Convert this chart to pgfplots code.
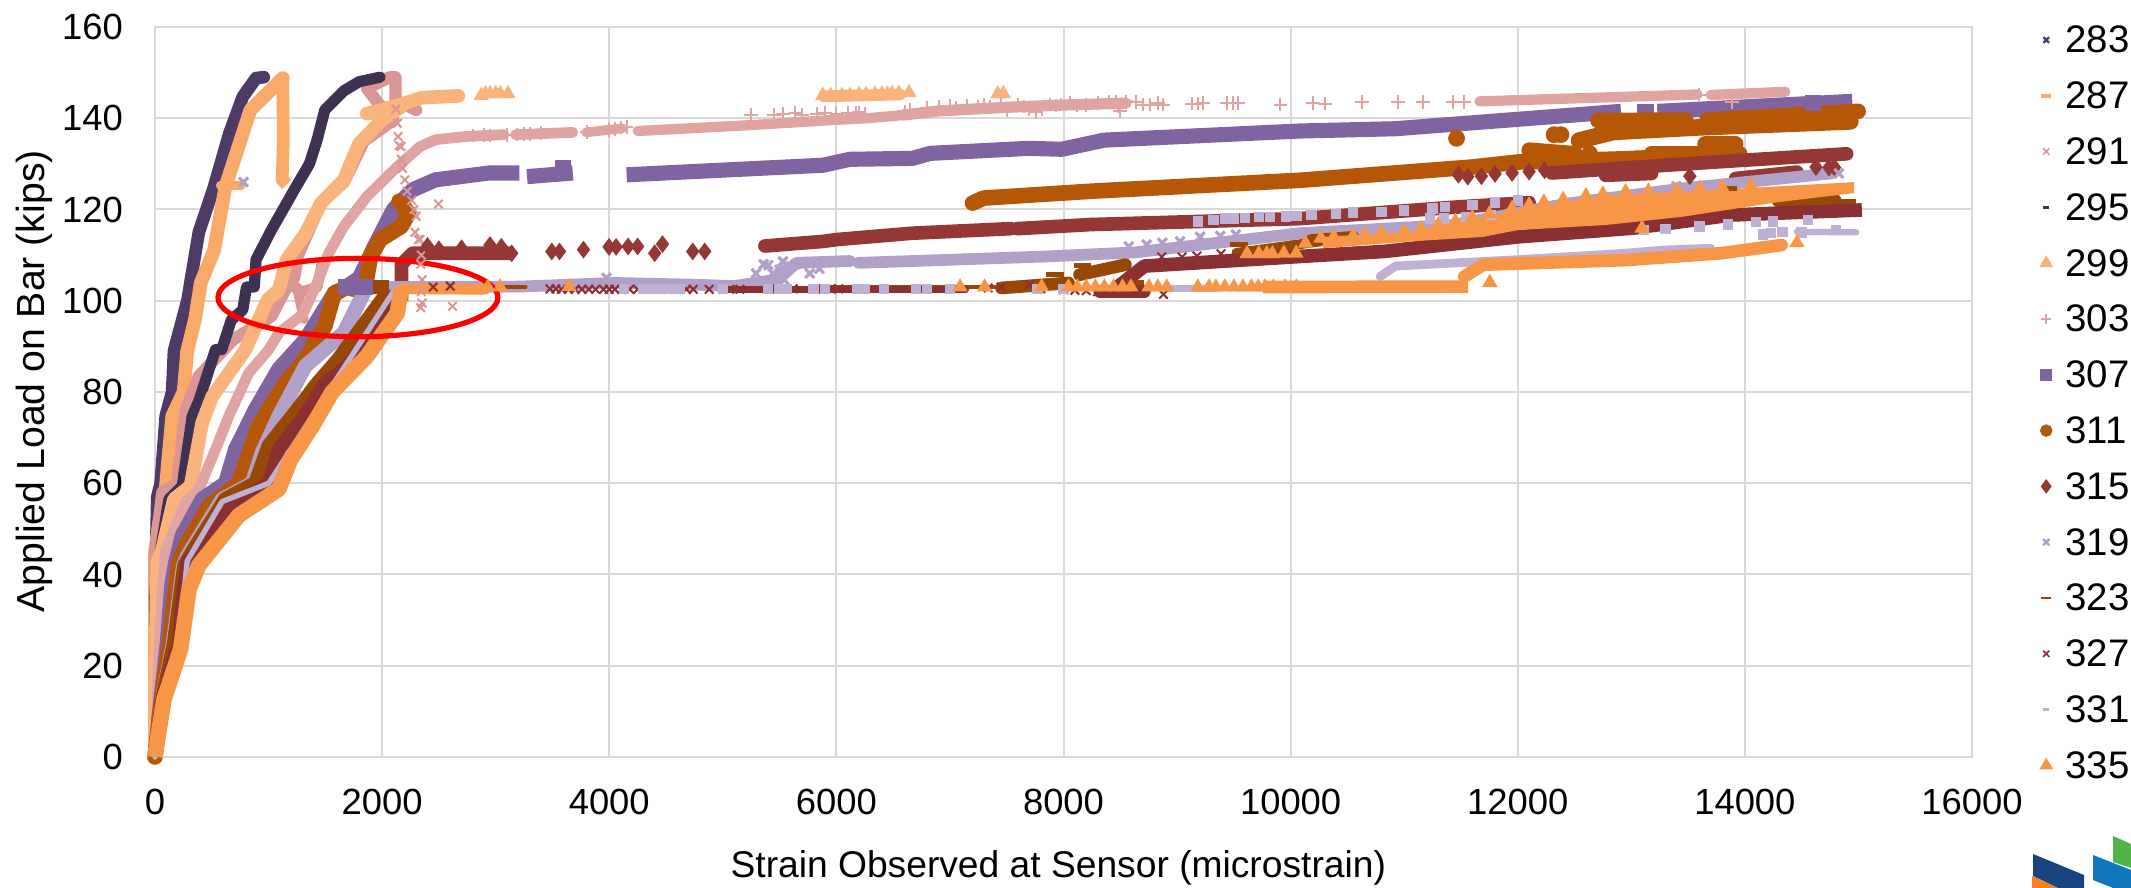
\documentclass[border=0pt]{standalone}
\usepackage{pgfplots}
\pgfplotsset{compat=1.18}
\usepackage{fontspec}
\setmainfont{Liberation Sans}
\usetikzlibrary{plotmarks}
\definecolor{c283}{HTML}{4D3B66}
\definecolor{c287}{HTML}{F9A968}
\definecolor{c291}{HTML}{D99694}
\definecolor{c295}{HTML}{3F3151}
\definecolor{c299}{HTML}{FAB37A}
\definecolor{c303}{HTML}{E0A5A3}
\definecolor{c307}{HTML}{8064A2}
\definecolor{c311}{HTML}{B65708}
\definecolor{c315}{HTML}{953735}
\definecolor{c319}{HTML}{B1A0C7}
\definecolor{c323}{HTML}{974806}
\definecolor{c327}{HTML}{8A3033}
\definecolor{c331}{HTML}{BFB1D3}
\definecolor{c335}{HTML}{F79646}
\definecolor{gridc}{HTML}{D9D9D9}
\definecolor{logoO}{HTML}{F58220}
\definecolor{logoD}{HTML}{17457F}
\definecolor{logoB}{HTML}{1078BE}
\definecolor{logoG}{HTML}{52B448}
\pgfplotsset{
 band/.style={forget plot,no markers,line join=round,line cap=round,line width=1.22*#1},
 dots/.style={forget plot,only marks},
}
\newcommand{\lgt}[1]{\hspace*{3.4pt}#1}
\begin{document}
\begin{tikzpicture}[x=1pt,y=1pt]
\useasboundingbox (0,0) rectangle (532.75pt,222pt);
\begin{axis}[
 at={(38.75pt,32.75pt)},anchor=south west,
 scale only axis,width=454.25pt,height=182.5pt,
 xmin=0,xmax=16000,ymin=0,ymax=160,
 xtick={0,2000,...,16000},ytick={0,20,...,160},
 scaled x ticks=false,
 xticklabel style={/pgf/number format/1000 sep={},/pgf/number format/assume math mode=true,font=\fontsize{9.1}{10}\selectfont},
 yticklabel style={/pgf/number format/assume math mode=true,font=\fontsize{9.1}{10}\selectfont},
 grid=major,grid style={gridc,line width=0.5pt},
 axis line style={gridc,line width=0.6pt},
 major tick length=0pt,
 tick align=inside,
 xticklabel shift=4.6pt,yticklabel shift=4.5pt,
 clip=false,axis on top=false,
 xlabel={Strain Observed at Sensor (microstrain)},
 ylabel={Applied Load on Bar (kips)},
 xlabel style={font=\fontsize{9.3}{10}\selectfont,yshift=-2pt,xshift=-1.3pt},
 ylabel style={font=\fontsize{9.8}{10}\selectfont,yshift=-4.4pt,xshift=2.7pt},
 legend style={draw=none,fill=none,at={(1.0378,1.0)},anchor=north west,
   font=\fontsize{9.6}{10}\selectfont,row sep=7.45pt,inner sep=0pt,outer sep=0pt,
   legend cell align=left,
   nodes={inner sep=0pt,text height=6.5pt,text depth=0pt}},
 legend image code/.code={\draw[mark repeat=2,mark phase=2,#1] plot coordinates {(0cm,0cm)(0.15cm,0cm)(0.3cm,0cm)};},
]
% legend
\addlegendimage{only marks,c283,mark=x,mark size=1pt,mark options={line width=.6pt}}
\addlegendimage{only marks,c287,mark=-,mark size=1.3pt,mark options={line width=.9pt}}
\addlegendimage{only marks,c291,mark=x,mark size=1.1pt,mark options={line width=.4pt}}
\addlegendimage{only marks,c295,mark=-,mark size=.8pt,mark options={line width=.8pt}}
\addlegendimage{only marks,c299,mark=triangle*,mark size=1.6pt}
\addlegendimage{only marks,c303,mark=+,mark size=1.2pt,mark options={line width=.4pt}}
\addlegendimage{only marks,c307,mark=square*,mark size=1.3pt}
\addlegendimage{only marks,c311,mark=*,mark size=1.35pt}
\addlegendimage{only marks,c315,mark=diamond*,mark size=1.5pt}
\addlegendimage{only marks,c319,mark=x,mark size=1.1pt,mark options={line width=.6pt}}
\addlegendimage{only marks,c323,mark=-,mark size=1.3pt,mark options={line width=.7pt}}
\addlegendimage{only marks,c327,mark=x,mark size=1.1pt,mark options={line width=.4pt}}
\addlegendimage{only marks,c331,mark=-,mark size=.8pt,mark options={line width=.8pt}}
\addlegendimage{only marks,c335,mark=triangle*,mark size=1.6pt}
\legend{\lgt{283},\lgt{287},\lgt{291},\lgt{295},\lgt{299},\lgt{303},\lgt{307},\lgt{311},\lgt{315},\lgt{319},\lgt{323},\lgt{327},\lgt{331},\lgt{335}}
% 283
\addplot[band=2.6pt,c283] coordinates {(0,0)(0,30)(10,45)(20,57)(50,60)(94,74.7)(151,80)(167,89)(285,100)(386,115)(520,125)(655,136.7)(773,144.7)(890,148.8)(958,149)};
% 287
\addplot[band=2.8pt,c287] coordinates {(0,0)(0,45)(35,51)(94,58.7)(152,74.7)(252,80)(284,89)(353,96)(403,103.9)(520,111)(620,125)(840,141.8)(991,145.5)(1125,148.8)};
\addplot[band=2.6pt,c287,line cap=butt] coordinates {(1125,148.8)(1130,135)(1120,126.5)(1160,125.5)};
\addplot[band=1.8pt,c287] coordinates {(575,125.3)(760,125.3)};
% 291
\addplot[band=2.5pt,c291] coordinates {(0,0)(0,45)(64,58)(196,60)(270,76)(387,83.5)(520,87)(690,91.5)(1025,96.6)(1159,103)(1226,105)(1260,110)(1462,121.4)(1663,126)(1840,135)(2100,139.6)(1966,143.3)(1865,146.6)(2066,149)(2117,149)(2117,144)(2300,141.8)};
\addplot[band=2.2pt,c291] coordinates {(1180,103.5)(1300,102)(1428,103)(1470,108)};
\addplot[band=2pt,c291] coordinates {(1250,103)(1310,96)};
\addplot[dots,c291,mark=x,mark size=1.5pt,mark options={line width=.5pt}] coordinates {(2120,142)(2134,138.9)(2140,136)(2150,134)(2167,133.8)(2170,131)(2180,129)(2200,126.5)(2220,124)(2260,122)(2280,120)(2300,118.5)(2290,115)(2320,113.4)(2335,113.4)(2345,110)(2340,108)(2352,104.6)(2345,102)(2352,99.5)(2340,98.5)(2620,98.8)(2496,121.2)};
% 295
\addplot[band=2.3pt,c295] coordinates {(0,0)(0,35)(10,40)(50,45.5)(123,56.5)(240,59.4)(328,74.7)(386,78)(533,89.3)(588,89.3)(672,95.8)(773,98)(806,103)(874,103)(890,109)(1025,115.5)(1226,124.3)(1360,130)(1428,135.3)(1495,141.8)(1663,146)(1797,148)(1982,149)};
% 299
\addplot[band=2.8pt,c299] coordinates {(0,0)(0,16)(20,42.6)(64,45.5)(167,56.5)(313,59.4)(416,73.3)(504,79)(797,89.3)(991,100.2)(1092,102.4)(1159,109)(1327,114.8)(1462,121.4)(1663,126.5)(1798,134.5)(2000,139.6)(2167,142.5)(1865,141)(2167,143)(2350,144.5)(2671,144.9)};
\addplot[dots,c299,mark=triangle*,mark size=1.8pt] coordinates {(2873,145)(2910,145.4)(2950,145.4)(3000,145.4)(3040,145.4)(3108,145.4)(5880,145)(5950,145)(6050,145)(6120,145)(6200,145.2)(6260,145.2)(6340,145.3)(6400,145.3)(6450,145.3)(6490,145.4)(6550,145.5)(6640,145.6)(7420,145.3)(7470,145.4)};
\addplot[band=2.4pt,c299] coordinates {(5890,144.8)(6560,145.2)};
% 303
\addplot[band=2.2pt,c303] coordinates {(0,0)(30,20)(60,35)(94,45.5)(270,55.8)(387,58.7)(533,67.4)(650,74.7)(826,84.2)(1002,89.3)(1092,93)(1300,97)(1428,103.9)(1529,110.4)(1663,116.3)(1865,122.8)(2134,129.4)(2335,133.8)(2470,135.3)(2738,136)(3074,136.4)};
\addplot[band=2.2pt,c303] coordinates {(3175,136.4)(3679,136.9)};
\addplot[band=2pt,c303] coordinates {(3797,136.9)(4116,137.8)};
\addplot[band=2.1pt,c303] coordinates {(4251,137.2)(5254,138.5)(5961,139.6)(6275,140)(6590,140.7)};
\addplot[band=2.3pt,c303] coordinates {(6590,140.7)(6900,141.6)(7500,142.4)(8000,142.9)(8550,143.3)};
\addplot[dots,c303,mark=+,mark size=1.7pt,mark options={line width=.5pt}] coordinates {(2800,136.2)(2900,136.3)(2950,136.2)(3100,136.3)(3190,136.4)(3250,136.5)(3300,136.5)(3400,136.7)(3800,137)(4000,137.4)(4050,137.6)(4100,138)(4153,138.1)(5250,140.8)(5450,140.8)(5530,141)(5640,141.2)(5700,140.8)(5830,141)(5900,141.2)(6000,141)(6100,141.2)(6170,141.1)(6200,141.3)(6250,141)(6600,141.5)(6650,141.8)(6800,142.2)(6900,142.5)(7000,142.7)(7050,142.3)(7150,142.7)(7250,142.5)(7300,143)(7350,142.5)(7450,143)(7500,141.7)(7600,143)(7650,142.6)(7700,142)(7760,141.3)(7810,142)(7880,143)(7930,142.8)(7980,143)(8060,143.4)(8120,142.8)(8200,142.9)(8300,143.4)(8400,143.5)(8460,143.5)(8480,142.6)(8500,141.6)(8550,143.7)(8640,143.6)(8700,143)(8760,143)(8830,143.3)(8880,143)(9130,143.2)(9180,143.2)(9230,143.3)(9440,143.4)(9490,143.3)(9540,143.3)(9910,143)(10199,143.3)(10300,143.2)(10630,143.6)(10946,143.6)(11168,143.6)(11428,143.6)(11529,143.6)(13885,143.6)(13600,145.2)};
\addplot[band=2.1pt,c303] coordinates {(11663,143.7)(13583,145.2)};
\addplot[band=2.1pt,c303] coordinates {(13700,145.1)(14357,145.8)};
% 307
\addplot[band=3.1pt,c307,line cap=butt] coordinates {(0,0)(50,12)(108,25)(150,38)(182,42.6)(240,48.5)(416,56.5)(621,60)(709,67.4)(885,76.2)(1090,85)(1327,91.5)(1562,101)(1800,105)(1932,111.9)(2100,120)(2268,124.3)(2470,126.5)(2940,128)(3209,128)};
\addplot[band=3.1pt,c307,line cap=butt] coordinates {(3276,127.2)(3679,128)};
\addplot[band=3.1pt,c307,line cap=butt] coordinates {(4153,127.6)(5882,129.7)(6118,131)(6668,131.2)(6826,132.3)(7690,133.4)(7985,133.2)(8358,135.2)(10081,137.2)(10923,137.7)(12909,141.5)};
\addplot[band=3.1pt,c307,line cap=butt] coordinates {(13050,141.5)(13200,141.5)};
\addplot[band=3.1pt,c307,line cap=butt] coordinates {(13229,141.5)(14946,143.7)};
\addplot[dots,c307,mark=square*,mark size=1.8pt] coordinates {(1680,103)(1730,103)(1850,103)(3590,129)(14600,143.4)};
% 311
\addplot[band=3.2pt,c311] coordinates {(0,0)(55,12)(130,25)(205,42)(270,46.3)(475,55)(738,60)(914,72.6)(1002,76.2)(1149,82)(1324,87.2)(1495,94.4)(1579,101.7)(1697,103)(1750,102.5)(1850,103)(1898,109.7)(1982,113.4)(2168,116.3)(2235,119.2)(2150,121.8)};
\addplot[band=3.2pt,c311] coordinates {(7199,121.4)(7297,122.5)(8240,124)(10081,126.4)(11596,129.3)(12000,130.4)(12926,131.1)(13953,132.2)};
\addplot[band=3.4pt,c311] coordinates {(12539,135.1)(12842,137)(13600,138)(14929,139.3)};
\addplot[band=3.2pt,c311] coordinates {(12707,139.5)(13481,139.6)};
\addplot[band=3.2pt,c311] coordinates {(13667,139.6)(14997,141.5)};
\addplot[band=3.2pt,c311] coordinates {(12101,133)(12505,132.2)};
\addplot[band=3.2pt,c311] coordinates {(13178,132.2)(13953,132.2)};
\addplot[band=3.2pt,c311] coordinates {(13650,134.3)(13919,134.3)};
\addplot[dots,c311,mark=*,mark size=1.9pt] coordinates {(11461,135.6)(12320,136.4)(12380,136.4)(12633,132.2)};
% 315
\addplot[band=2.8pt,c315,line cap=butt] coordinates {(2170,100)(2170,108)(2268,110.4)(3141,110.4)};
\addplot[dots,c315,mark=diamond*,mark size=1.9pt] coordinates {(2400,112)(2500,111.3)(2700,111.5)(2950,112.2)(3050,111.8)(3141,110.4)(3494,110.8)(3562,110.8)(3773,111.2)(3998,111.8)(4060,111.8)(4166,111.9)(4250,111.9)(4400,110.4)(4469,112.4)(4735,110.8)(4841,110.8)(11478,127.6)(11560,127.2)(11680,127.3)(11800,127.8)(11950,128)(12100,128.3)(12236,128.6)(13515,127.3)(14626,129.3)(14740,129.2)(14790,129.2)};
\addplot[band=2.8pt,c315] coordinates {(5371,112)(5882,113)(6000,113.4)(6668,114.8)(7533,115.8)};
\addplot[band=2.8pt,c315] coordinates {(7592,115.8)(8240,116.7)(10081,118)(11495,120.6)(12100,121.5)};
\addplot[band=2.8pt,c315] coordinates {(12300,128)(13000,129.2)(13800,130.5)(14896,132.2)};
\addplot[band=2.8pt,c315] coordinates {(12774,127.5)(13178,127.9)};
\addplot[band=2.8pt,c315] coordinates {(13919,126.8)(14458,128.2)};
% 319
\addplot[band=3pt,c319,line cap=butt] coordinates {(0,0)(60,12)(160,25)(250,42)(284,44)(592,56.5)(855,60)(943,66.7)(1090,74.7)(1324,85.7)(1663,93)(1865,103)};
\addplot[band=2.4pt,c319] coordinates {(1865,103)(3209,103.1)(4050,103.9)(4780,103.5)(5096,103.2)(5490,104.7)(5647,108.3)(6118,108.7)};
\addplot[band=2.4pt,c319] coordinates {(6197,108.3)(7847,109.7)(8633,110.6)(10081,114.8)(11428,116.6)(12437,121.3)(13448,124.6)(14761,127.9)};
\addplot[dots,c319,mark=x,mark size=1.6pt,mark options={line width=.8pt}] coordinates {(780,126)(3976,105)(5293,106)(5360,108)(5400,107.8)(5440,106)(5500,106.8)(5530,108.6)(5600,107.5)(5540,104.6)(5700,108)(5765,106)(5850,107)(6050,108.7)(8575,111.9)(8732,112.3)(8870,112.7)(9026,113)(9203,114)(9380,114.2)(9518,114.5)(13397,125.1)(14828,127.9)};
% 323
\addplot[band=3pt,c323,line cap=butt] coordinates {(0,0)(60,12)(170,25)(260,42)(330,45)(621,56.5)(885,60)(1002,68.2)(1236,75.5)(1412,81.3)(1617,87.2)(2066,102.4)};
\addplot[band=3pt,c323,line cap=butt] coordinates {(1800,103)(2060,103)};
\addplot[band=1pt,c323] coordinates {(3040,103)(3259,103)};
\addplot[band=1pt,c323] coordinates {(5780,103)(7454,103)};
\addplot[band=2.6pt,c323] coordinates {(7454,102.8)(8044,103.9)};
\addplot[band=2.6pt,c323] coordinates {(8141,105.7)(8545,107.9)};
\addplot[band=2pt,c323] coordinates {(9522,110.5)(10263,113)};
\addplot[band=2.4pt,c323] coordinates {(10182,113.3)(10552,114)};
\addplot[band=2.6pt,c323] coordinates {(13246,118)(13683,119.1)};
\addplot[band=2.6pt,c323] coordinates {(14290,122)(14795,122)};
\addplot[dots,c323,mark=-,mark size=2.2pt,mark options={line width=1.2pt}] coordinates {(7923,105.7)(8168,107.8)(8633,104)(9545,112.3)(13852,124.6)(14650,121.5)(14900,121.7)};
% 327
\addplot[band=2.8pt,c327,line cap=butt] coordinates {(0,0)(60,12)(150,20)(211,25)(250,36)(284,42.6)(416,46.3)(680,55)(1002,60)(1090,67.4)(1295,74)(1500,82)(1697,85.6)(2000,95.8)(2134,101.7)};
\addplot[band=2.6pt,c327] coordinates {(8320,102)(8712,102)};
\addplot[band=2.8pt,c327,line cap=butt] coordinates {(8476,103)(8712,107.6)(10081,109.7)(10822,110.8)(12000,114)(13010,115.9)(13885,118.8)(15030,119.9)};
\addplot[band=1.3pt,c327] coordinates {(5000,102.5)(7140,102.5)};
\addplot[dots,c327,mark=x,mark size=1.5pt,mark options={line width=.5pt}] coordinates {(2450,103)(2600,103.2)(3478,102.6)(3530,102.6)(3580,102.5)(3640,102.5)(3700,102.5)(3760,102.5)(3820,102.5)(3880,102.5)(3950,102.5)(4000,102.5)(4050,102.5)(4110,102.5)(4180,102.5)(4250,102.5)(4330,102.5)(4400,102.5)(4450,102.5)(4520,102.5)(4600,102.5)(4680,102.5)(4740,102.5)(4880,102.5)(5000,102.5)(5060,102.5)(5150,102.5)(5400,102.6)(5480,102.6)(5560,102.6)(5620,102.6)(5800,102.6)(5880,102.6)(5950,102.6)(6020,102.6)(7337,102.8)(7450,103)(7700,103.5)(7800,102.6)(8000,102.4)(8100,102.3)(8200,102.2)(8300,102)(8880,101.4)(8865,109.6)(9044,109.6)(9175,109.8)(9387,110.3)(13912,118.4)};
% 331
\addplot[band=1.1pt,c331] coordinates {(0,0)(60,12)(211,25)(284,43)(592,56)(1002,60)(2100,102)(2900,102.6)};
\addplot[band=1.4pt,c331] coordinates {(8900,102.6)(9350,102.6)};
\addplot[dots,c331,mark=square*,mark size=1.1pt] coordinates {(4130,102.6)(4300,102.6)(4360,102.6)(4420,102.6)(4480,102.6)(4540,102.6)(4620,102.6)(5000,102.6)(5400,102.6)(5500,102.6)(5560,102.6)(5800,102.6)(5900,102.6)(6180,102.6)(6250,102.6)(6420,102.6)(6700,102.6)(6800,102.6)(7000,102.6)(7770,102.6)(8000,102.6)(9183,117.4)(9320,117.7)(9420,118)(9500,118)(9600,118.2)(9720,118.3)(9820,118.4)(9960,118.5)(10050,118.6)(10182,118.8)(10400,119)(10550,119.3)(10800,119.5)(11000,119.8)(11250,120.2)(11360,120.6)(11226,118)(11350,118)(11550,118.4)(11764,118.8)(11600,121)(11800,121.5)(12000,122)(13111,115.5)(13300,115.7)(13600,116.3)(13850,116.7)(14100,117.2)(14250,117.4)(14558,117.7)(14160,114.5)(14230,114.8)(14330,115.1)(14500,115)(14800,115.5)};
\addplot[band=1.8pt,c331] coordinates {(10788,105.3)(10923,107.6)(12000,109)(12943,110.4)(13280,111.1)(13700,111.5)};
\addplot[band=1.3pt,c331] coordinates {(14458,115.1)(14980,115)};
% 335
\addplot[band=3.2pt,c335,line cap=butt] coordinates {(0,0)(4,1)(80,12.7)(225,23.6)(300,36.8)(385,42)(740,53)(1090,58.7)(1190,65)(1385,72.5)(1560,80)(1865,87.8)(2134,97.3)(2167,102.4)};
\addplot[band=2.2pt,c335] coordinates {(2167,102.6)(2400,102.6)(2906,102.5)};
\addplot[forget plot,draw=none,fill=c335] coordinates {(10283,114)(11057,115.1)(11697,118.4)(12000,119.9)(12774,123.1)(13448,123.9)(14963,126)(14963,123.6)(14290,121.6)(13448,118.4)(12774,116.6)(12000,115.5)(11697,114)(11057,113)(10283,111.5)} -- cycle;
\addplot[dots,c335,mark=triangle*,mark size=1.8pt] coordinates {(2930,103)(3040,103)(3646,103.1)(7089,103)(7305,103)(7808,103)(8044,103)(8122,103)(8200,103)(8280,103)(8360,103)(8440,103)(8520,103)(8594,103)(8752,103)(8830,103)(8909,103)(9183,103)(9282,103)(9341,103)(9420,103)(9500,103)(9580,103)(9655,103)(9714,103)(9773,103)(9850,103)(9950,103)(10050,103)(9616,110.3)(9720,110.3)(9790,110.3)(9840,110.3)(9940,110.4)(10048,110.4)(10131,112.6)(10266,113.7)(10380,114)(10550,114.2)(10650,114.4)(10800,114.8)(11000,115.2)(11150,115.8)(11300,116.6)(11450,117.4)(11600,118.2)(11750,119)(11950,120.2)(12100,121)(12230,121.6)(12400,122.2)(12600,123)(12750,123.4)(12950,123.9)(13094,115.9)(13150,124)(13400,124.3)(13600,124.6)(13800,124.8)(14050,125.2)(11754,104)(14458,112.7)};
\addplot[band=2.6pt,c335,line cap=butt] coordinates {(9757,103)(11562,103.1)};
\addplot[band=2.6pt,c335] coordinates {(11529,105.3)(11697,107.9)(12943,108.9)(13785,110.4)(14323,112.2)};
% annotation
\draw[red,line width=1.3pt] (axis cs:1787,100.7) ellipse [x radius=35pt,y radius=9.8pt];
\end{axis}
% logo
\begin{scope}[x=.25pt,y=.25pt]
\fill[logoD] (2033,34) -- (2084,13) -- (2084,0) -- (2058,0) -- (2033,12) -- cycle;
\fill[logoO] (2032,12) -- (2058,0) -- (2032,0) -- cycle;
\fill[logoG] (2113,52) -- (2131,44) -- (2131,20) -- (2113,26) -- cycle;
\fill[logoB] (2093,33) -- (2131,18) -- (2131,0) -- (2113,0) -- (2093,8) -- cycle;
\end{scope}
\end{tikzpicture}
\end{document}
